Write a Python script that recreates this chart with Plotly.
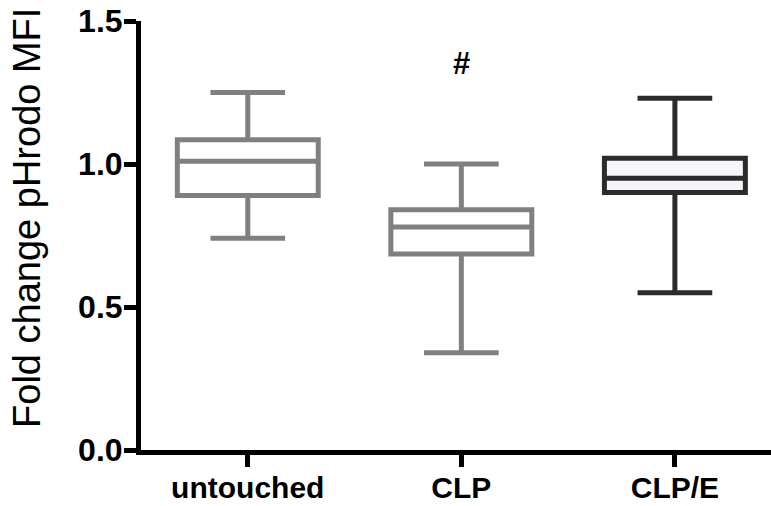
import plotly.graph_objects as go

categories = ["untouched", "CLP", "CLP/E"]
upper_fence = [1.25, 1.00, 1.23]
q3_vals = [1.085, 0.84, 1.02]
median_vals = [1.01, 0.78, 0.95]
q1_vals = [0.89, 0.685, 0.90]
lower_fence = [0.74, 0.34, 0.55]
line_colors = ["#808080", "#808080", "#2b2b2b"]
fill_colors = ["#ffffff", "#ffffff", "#f5f6fc"]
y_tickvals = [0.0, 0.5, 1.0, 1.5]
y_ticktext = ["0.0", "0.5", "1.0", "1.5"]
annot_text = "<b>#</b>"
annot_cat = "CLP"
annot_y = 1.35

fig = go.Figure()
for i, c in enumerate(categories):
    fig.add_trace(go.Box(
        x=[c], q1=[q1_vals[i]], median=[median_vals[i]], q3=[q3_vals[i]],
        lowerfence=[lower_fence[i]], upperfence=[upper_fence[i]],
        line=dict(color=line_colors[i], width=5),
        fillcolor=fill_colors[i],
        width=0.66, whiskerwidth=0.53,
        boxpoints=False, showlegend=False, hoverinfo="skip",
    ))

fig.add_annotation(x=annot_cat, y=annot_y, text=annot_text, showarrow=False,
                   font=dict(family="Liberation Sans", size=31, color="black"))
fig.add_annotation(xref="paper", yref="paper", x=-0.18, y=0.54, text="Fold change pHrodo MFI",
                   textangle=-90, showarrow=False, xanchor="center", yanchor="middle",
                   font=dict(family="Liberation Sans", size=38, color="black"))

fig.update_layout(
    width=771, height=506,
    margin=dict(l=141, r=0, t=21, b=56, autoexpand=False),
    plot_bgcolor="white", paper_bgcolor="white",
    xaxis=dict(type="category", range=[-0.5, 2.45], showline=True, linecolor="black", linewidth=5,
               ticks="outside", ticklen=12, tickwidth=5, tickcolor="black", showgrid=False,
               zeroline=False, automargin=False, ticklabelstandoff=-5,
               tickfont=dict(family="Liberation Sans", size=30, color="black", weight="bold")),
    yaxis=dict(range=[0, 1.5], tickvals=y_tickvals, ticktext=y_ticktext, showline=True,
               linecolor="black", linewidth=5, ticks="outside", ticklen=12, tickwidth=5,
               tickcolor="black", showgrid=False, zeroline=False, automargin=False,
               ticklabelstandoff=-5,
               tickfont=dict(family="Liberation Sans", size=32, color="black", weight="bold")),
)
fig.write_html("out.html")
